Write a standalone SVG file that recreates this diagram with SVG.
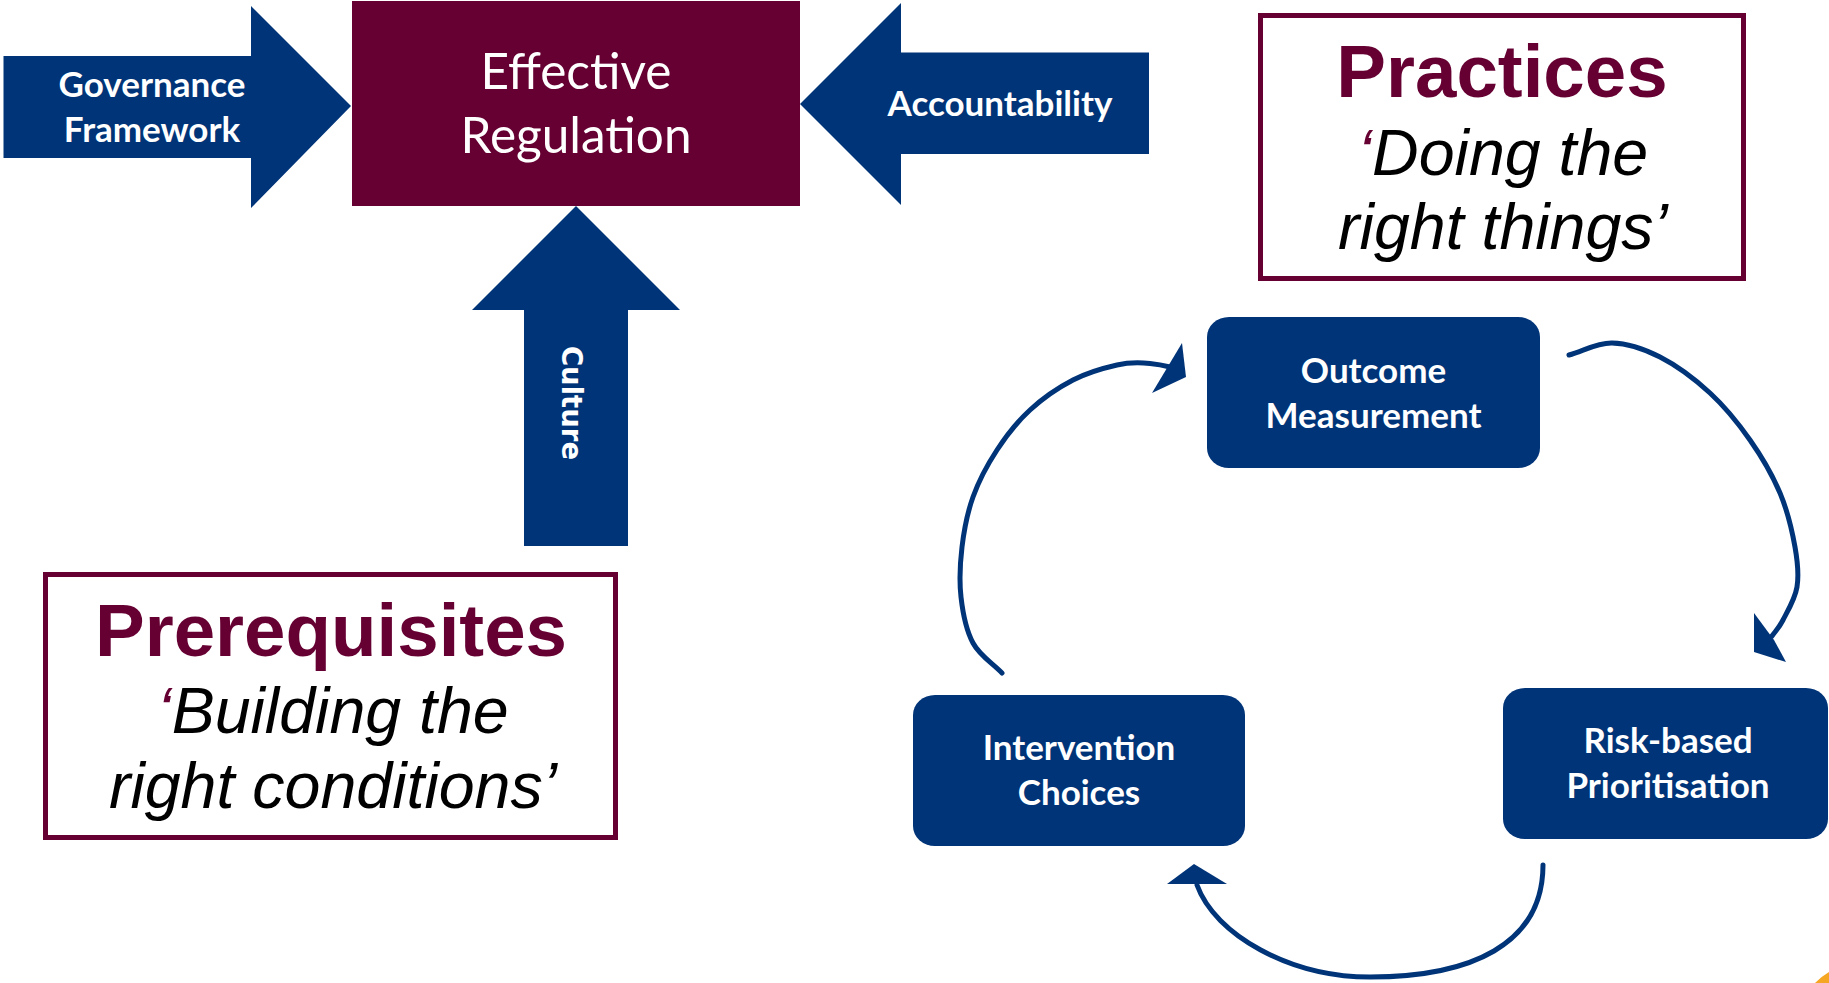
<svg xmlns="http://www.w3.org/2000/svg" width="1829" height="983" viewBox="0 0 1829 983">
<style>
.blue{fill:#003478}
.maroon{fill:#660033}
.lbl{font-family:Lato,"Liberation Sans",sans-serif;font-weight:bold;font-size:35px;fill:#ffffff;text-anchor:middle}
.reg{font-family:Lato,"Liberation Sans",sans-serif;font-size:49.5px;fill:#ffffff;text-anchor:middle}
.culture{font-family:"DejaVu Sans",Verdana,sans-serif;font-weight:bold;font-size:27.5px;fill:#ffffff;text-anchor:middle}
.frame{fill:#ffffff;stroke:#660033;stroke-width:5}
.title{font-family:"Liberation Sans",Arial,sans-serif;font-weight:bold;font-size:74.5px;fill:#660033;text-anchor:middle}
.sub{font-family:"Liberation Sans",Arial,sans-serif;font-style:italic;font-size:64.5px;fill:#000000;text-anchor:middle}
.q{fill:#660033}
.curve{fill:none;stroke:#003478;stroke-width:5;stroke-linecap:round}
</style>
<rect width="1829" height="983" fill="#ffffff"/>

<g id="effective-regulation">
<rect x="352" y="1" width="448" height="205" class="maroon"/>
<text class="reg" x="576" y="89">Effective</text>
<text class="reg" x="576" y="153">Regulation</text>
</g>

<g id="governance-framework">
<polygon class="blue" points="3.5,56 251,56 251,6 351,106 251,208 251,158 3.5,158"/>
<text class="lbl" x="152" y="97">Governance</text>
<text class="lbl" x="152" y="142">Framework</text>
</g>

<g id="accountability">
<polygon class="blue" points="800,104 901,3 901,52.5 1149,52.5 1149,154 901,154 901,205"/>
<text class="lbl" x="1000" y="116">Accountability</text>
</g>

<g id="culture">
<polygon class="blue" points="576,206 680,310 628,310 628,546 524,546 524,310 472,310"/>
<text class="culture" transform="translate(562,403) rotate(90)">Culture</text>
</g>

<g id="prerequisites">
<rect class="frame" x="45.5" y="574.5" width="570" height="263"/>
<text class="title" x="331" y="656">Prerequisites</text>
<text class="sub" x="333" y="733"><tspan class="q">‘</tspan>Building the</text>
<text class="sub" x="333" y="808">right conditions’</text>
</g>

<g id="practices">
<rect class="frame" x="1260.5" y="15.5" width="483" height="263"/>
<text class="title" x="1502" y="97">Practices</text>
<text class="sub" x="1503" y="175"><tspan class="q">‘</tspan>Doing the</text>
<text class="sub" x="1503" y="249">right things’</text>
</g>

<g id="outcome-measurement">
<rect class="blue" x="1207" y="317" width="333" height="151" rx="22" ry="20"/>
<text class="lbl" x="1373.5" y="383">Outcome</text>
<text class="lbl" x="1373.5" y="428">Measurement</text>
</g>

<g id="risk-based-prioritisation">
<rect class="blue" x="1503" y="688" width="325" height="151" rx="22" ry="20"/>
<text class="lbl" x="1668" y="753">Risk-based</text>
<text class="lbl" x="1668" y="798">Prioritisation</text>
</g>

<g id="intervention-choices">
<rect class="blue" x="913" y="695" width="332" height="151" rx="22" ry="20"/>
<text class="lbl" x="1079" y="760">Intervention</text>
<text class="lbl" x="1079" y="805">Choices</text>
</g>

<g id="connectors">
<path class="curve" d="M1569,355 C1583.3,351 1596.8,342.7 1612,343 C1627.2,343.3 1643.7,348.7 1660,357 C1676.3,365.3 1695,379.2 1710,393 C1725,406.8 1738.3,423.3 1750,440 C1761.7,456.7 1772.5,475.2 1780,493 C1787.5,510.8 1792.2,531.3 1795,547 C1797.8,562.7 1799,574.8 1797,587 C1795,599.2 1787.2,611.8 1783,620 C1778.8,628.2 1775.7,630.7 1772,636"/>
<polygon class="blue" points="1754,613 1754,652 1786,662 1774,640"/>

<path class="curve" d="M1543,865 C1543,945 1470,977 1370,977 C1290,977 1215,935 1197,885"/>
<polygon class="blue" points="1194,864 1227,884 1167,884"/>

<path class="curve" d="M1002,673 C992.3,663 979.8,655.7 973,643 C966.2,630.3 962.8,613 961,597 C959.2,581 960,563.7 962,547 C964,530.3 967.2,513.2 973,497 C978.8,480.8 987.5,464.5 997,450 C1006.5,435.5 1017.3,421.7 1030,410 C1042.7,398.3 1058.5,387.5 1073,380 C1087.5,372.5 1104.7,367.8 1117,365 C1129.3,362.2 1140,362.5 1150,363.5 C1158,364.3 1164,365.5 1170,367"/>
<polygon class="blue" points="1182,343 1186,377 1152,393"/>
</g>

<path d="M1815,983 Q1822,976 1829,972 L1829,983 Z" fill="#f5a623"/>
</svg>
